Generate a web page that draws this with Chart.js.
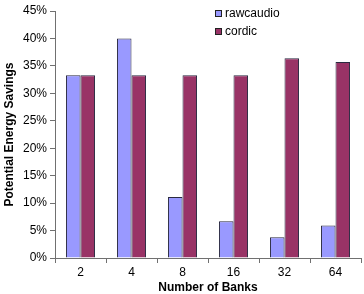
<!DOCTYPE html>
<html>
<head>
<meta charset="utf-8">
<script src="https://cdn.jsdelivr.net/npm/chart.js@4/dist/chart.umd.min.js"></script>
<style>
  html, body { margin: 0; padding: 0; background: #fff; }
  #wrap { position: relative; width: 364px; height: 294px; }
  #legend { position: absolute; left: 215px; top: 4px; font-family: "Liberation Sans", Arial, sans-serif; font-size: 12px; color: #000; }
  .item { display: flex; align-items: center; height: 18px; }
  .box { width: 7px; height: 7px; border: 1px solid #222; margin-right: 3px; box-sizing: border-box; }
</style>
</head>
<body>
<div id="wrap">
  <canvas id="c" width="364" height="294"></canvas>
  <div id="legend"></div>
</div>
<script>
const categories = ['2', '4', '8', '16', '32', '64'];
const seriesNames = ['rawcaudio', 'cordic'];
const rawcaudio = [33.3, 40.0, 11.1, 6.7, 3.8, 5.9];
const cordic = [33.3, 33.3, 33.3, 33.3, 36.4, 35.7];
const yTicks = [0, 5, 10, 15, 20, 25, 30, 35, 40, 45];
const colors = ['#9999FF', '#993366'];
const xTitle = 'Number of Banks';
const yTitle = 'Potential Energy Savings';

const FONT = '"Liberation Sans", Arial, sans-serif';
const axisColor = '#707070';

const datasets = [rawcaudio, cordic].map((d, i) => ({
  label: seriesNames[i],
  data: d,
  backgroundColor: colors[i],
  borderColor: '#2a2a40',
  borderWidth: 1,
  categoryPercentage: 0.57,
  barPercentage: 1.0
}));

new Chart(document.getElementById('c'), {
  type: 'bar',
  data: { labels: categories, datasets },
  options: {
    responsive: false,
    animation: false,
    layout: { padding: { left: 0, top: 11, right: 3, bottom: 0 } },
    plugins: { legend: { display: false }, tooltip: { enabled: false } },
    scales: {
      x: {
        grid: { display: true, drawOnChartArea: false, drawTicks: true, tickLength: 5, color: axisColor, offset: true },
        border: { display: true, color: axisColor, width: 1 },
        ticks: { color: '#000', font: { family: FONT, size: 12 }, padding: 2, maxRotation: 0 },
        title: { display: true, text: xTitle, color: '#000', font: { family: FONT, size: 12, weight: 'bold', lineHeight: 1 }, padding: { top: 0, bottom: 0 } },
        afterFit: s => { s.height = 36; }
      },
      y: {
        min: 0, max: 45,
        afterBuildTicks: s => { s.ticks = yTicks.map(v => ({ value: v })); },
        grid: { display: true, drawOnChartArea: false, drawTicks: true, tickLength: 5, color: axisColor },
        border: { display: true, color: axisColor, width: 1 },
        ticks: { color: '#000', font: { family: FONT, size: 12 }, padding: 3, callback: v => v + '%' },
        title: { display: true, text: yTitle, color: '#000', font: { family: FONT, size: 12, weight: 'bold', lineHeight: 1 }, padding: { top: 4, bottom: 0 } },
        afterFit: s => { s.width = 55; }
      }
    }
  }
});

const legend = document.getElementById('legend');
seriesNames.forEach((name, i) => {
  const item = document.createElement('div');
  item.className = 'item';
  const box = document.createElement('span');
  box.className = 'box';
  box.style.background = colors[i];
  const t = document.createElement('span');
  t.textContent = name;
  item.appendChild(box);
  item.appendChild(t);
  legend.appendChild(item);
});
</script>
</body>
</html>
